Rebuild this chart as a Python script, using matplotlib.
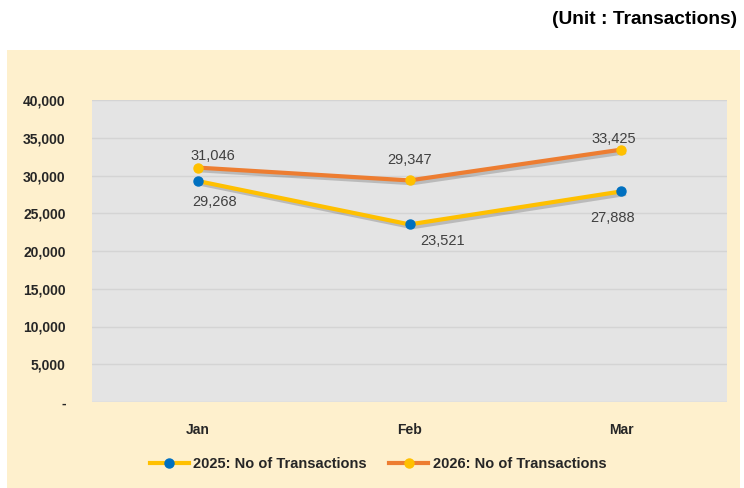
import matplotlib.pyplot as plt
import matplotlib.patheffects as pe
from matplotlib.patches import Rectangle
from matplotlib.lines import Line2D

plt.rcParams["font.family"] = ["Liberation Sans", "DejaVu Sans"]

months = ["Jan", "Feb", "Mar"]
tx_2025 = [29268, 23521, 27888]
tx_2026 = [31046, 29347, 33425]
y_ticks = [0, 5000, 10000, 15000, 20000, 25000, 30000, 35000, 40000]
# label offsets (points) for the data labels
off_2025 = [(12, -15), (24, -12), (-6, -19)]
off_2026 = [(11, 8), (0, 15), (-5, 8)]

cream = "#FEF0CD"
yellow = "#FFC000"
orange = "#ED7D31"
blue = "#0070C0"

fig = plt.figure(figsize=(7.44, 4.88), dpi=100)
fig.patch.set_facecolor("white")
fig.patches.append(Rectangle((7 / 744, 0), 733 / 744, 438 / 488,
                             transform=fig.transFigure, facecolor=cream,
                             edgecolor="none", zorder=-10))

ax = fig.add_axes([92 / 744, 86 / 488, 635 / 744, 302 / 488])
ax.set_facecolor("#E4E4E4")
for s in ax.spines.values():
    s.set_visible(False)

x = list(range(len(months)))
shadow = [pe.SimpleLineShadow(offset=(2, -2), shadow_color="black", alpha=0.18),
          pe.Normal()]
ax.plot(x, tx_2025, color=yellow, lw=3, path_effects=shadow, zorder=3)
ax.plot(x, tx_2026, color=orange, lw=3, path_effects=shadow, zorder=3)
ax.plot(x, tx_2025, ls="none", marker="o", ms=6.5, mfc=blue, mec=blue, zorder=4)
ax.plot(x, tx_2026, ls="none", marker="o", ms=6.5, mfc=yellow, mec=yellow, zorder=4)

for i, v in enumerate(tx_2026):
    ax.annotate(f"{v:,}", (i, v), xytext=off_2026[i], textcoords="offset points",
                ha="center", va="center", fontsize=10.5, color="#404040")
for i, v in enumerate(tx_2025):
    ax.annotate(f"{v:,}", (i, v), xytext=off_2025[i], textcoords="offset points",
                ha="center", va="center", fontsize=10.5, color="#404040")

ax.set_xlim(-0.5, 2.5)
ax.set_ylim(0, 40000)
ax.set_yticks(y_ticks)
ax.set_yticklabels(["-" if t == 0 else f"{t:,}" for t in y_ticks],
                   fontsize=10, fontweight="bold", color="#262626")
ax.set_xticks(x)
ax.set_xticklabels(months, fontsize=10, fontweight="bold", color="#262626")
ax.tick_params(axis="both", length=0)
ax.tick_params(axis="y", pad=19)
ax.tick_params(axis="x", pad=15)
ax.yaxis.grid(True, color="#D4D4D4", lw=1)
ax.set_axisbelow(True)

handles = [
    Line2D([], [], color=yellow, lw=3, marker="o", ms=6.5, mfc=blue, mec=blue),
    Line2D([], [], color=orange, lw=3, marker="o", ms=6.5, mfc=yellow, mec=yellow),
]
labels = ["2025: No of Transactions", "2026: No of Transactions"]
leg = fig.legend(handles, labels, loc="center", bbox_to_anchor=(378 / 744, 1 - 464 / 488),
                 ncol=2, frameon=False, handlelength=2.7, handletextpad=0.3,
                 columnspacing=1.5, prop={"weight": "bold", "size": 10.5})
for t in leg.get_texts():
    t.set_color("#262626")

fig.text(737 / 744, 1 - 20 / 488, "(Unit : Transactions)", ha="right", va="center",
         fontsize=13.8, fontweight="bold", color="black")

fig.savefig("out.png", dpi=100, facecolor=fig.get_facecolor())
